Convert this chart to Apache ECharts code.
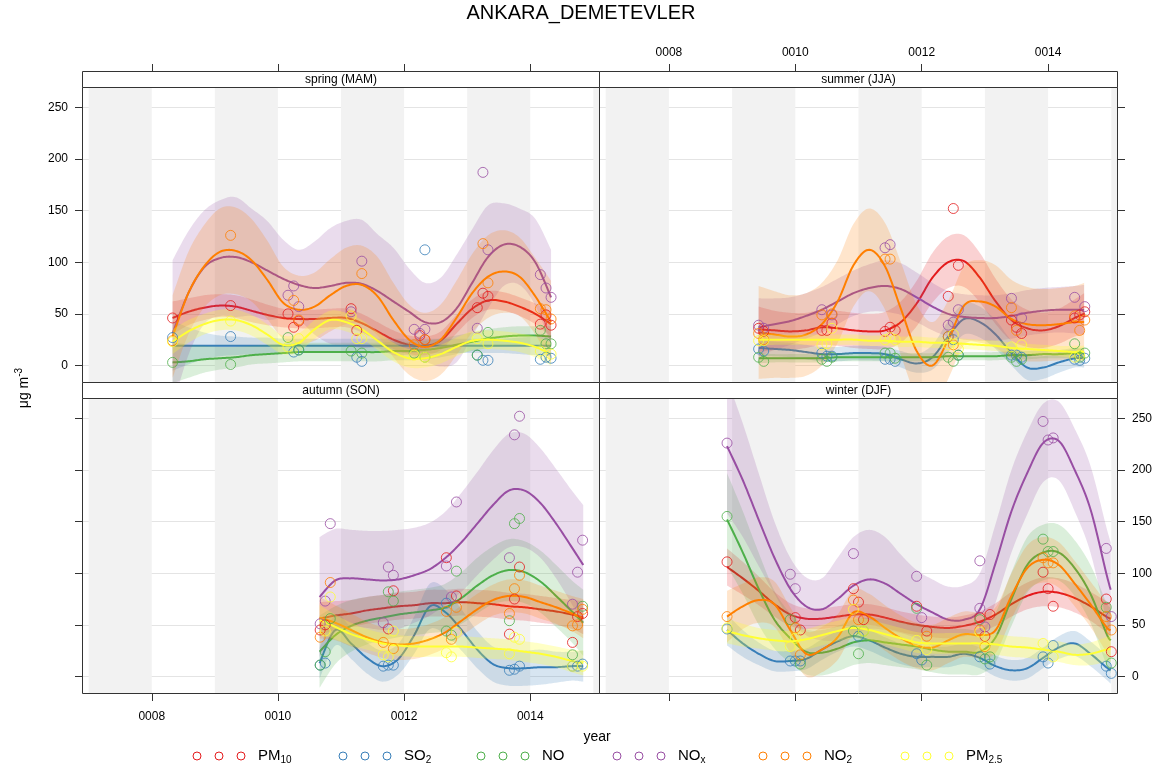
<!DOCTYPE html>
<html><head><meta charset="utf-8">
<script src="https://cdn.jsdelivr.net/npm/echarts@6/dist/echarts.min.js"></script>
<style>html,body{margin:0;padding:0;background:#fff}#c{width:1162px;height:771px}</style>
</head><body><div id="c"></div>
<script>
// ---------- labels & ticks ----------
const chartTitle = 'ANKARA_DEMETEVLER';
const seasonNames = ['spring (MAM)', 'summer (JJA)', 'autumn (SON)', 'winter (DJF)'];
const pollutants = ['PM10', 'SO2', 'NO', 'NOx', 'NO2', 'PM2.5'];
const legendMain = ['PM', 'SO', 'NO', 'NO', 'NO', 'PM'];
const legendSub = ['10', '2', '', 'x', '2', '2.5'];
const colors = ['#E41A1C', '#377EB8', '#4DAF4A', '#984EA3', '#FF7F00', '#FFFF33'];
const xTickYears = [2008, 2010, 2012, 2014];
const xTickLabels = ['0008', '0010', '0012', '0014'];
const yTicks = [0, 50, 100, 150, 200, 250];
const shadeYears = [2007, 2009, 2011, 2013, 2015];

// ---------- spring ----------
const springX = [2008.33,2008.58,2008.83,2009.08,2009.33,2009.58,2009.83,2010.08,2010.33,2010.58,2010.83,2011.08,2011.33,2011.58,2011.83,2012.08,2012.33,2012.58,2012.83,2013.08,2013.33,2013.58,2013.83,2014.08,2014.33];
const springPM10Fit = [46,52,56,58,57,53,49,46,45,45,46,46,41,33,25,20,19,24,40,55,63,62,57,50,40];
const springPM10Ci  = [16,13,12,11,11,11,10,9,9,9,9,9,9,9,9,9,9,9,9,9,9,9,9,10,12];
const springSO2Fit  = [19,19,19,19,19,19,19,19,19,19,19,19,19,19,19,19,19,19,19,19,19,19,19,19,19];
const springSO2Ci   = [24,18,13,10,9,8,8,7,7,7,7,7,7,7,7,7,7,7,7,7,7,7,8,9,10];
const springNOFit   = [3,4,6,7,8,10,11,12,13,13,13,13,13,13,14,14,15,17,20,23,26,28,29,29,28];
const springNOCi    = [20,16,13,11,10,9,9,9,9,9,9,9,9,9,9,9,9,9,9,9,9,9,9,9,10];
const springNOxFit  = [31,70,95,104,105,100,92,84,78,75,77,80,79,72,62,52,42,42,55,80,105,117,115,100,66];
const springNOxCi   = [71,60,55,56,58,52,48,38,34,45,56,60,62,55,52,42,38,43,52,52,50,40,37,42,46];
const springNO2Fit  = [28,70,96,110,111,102,83,61,54,57,68,77,78,67,44,25,18,25,46,70,86,91,86,67,42];
const springNO2Ci   = [40,40,40,42,42,40,38,35,33,33,35,37,38,38,36,34,33,34,36,38,40,40,38,37,40];
const springPM25Fit = [23,33,40,44,44,39,30,20,22,35,44,42,35,24,13,7,7,11,18,24,25,24,22,18,11];
const springPM25Ci  = [12,11,10,10,10,10,10,9,9,9,9,9,9,9,9,9,9,9,9,9,9,9,9,10,11];
const springPM10Pts = [[2008.33,46],[2009.25,58],[2010.16,50],[2010.25,37],[2010.33,43],[2011.16,55],[2011.25,34],[2012.25,29],[2012.33,25],[2013.16,56],[2013.25,70],[2013.33,67],[2014.16,40],[2014.25,49],[2014.33,39]];
const springSO2Pts  = [[2008.33,27],[2009.25,28],[2010.25,13],[2010.33,15],[2011.25,8],[2011.33,4],[2012.33,112],[2013.16,10],[2013.25,5],[2013.33,5],[2014.16,6],[2014.25,8],[2014.33,7]];
const springNOPts   = [[2008.33,3],[2009.25,1],[2010.16,27],[2010.33,15],[2011.16,14],[2011.33,12],[2012.16,12],[2012.33,8],[2013.16,10],[2013.33,32],[2014.16,34],[2014.25,21],[2014.33,21]];
const springNOxPts  = [[2010.16,68],[2010.25,77],[2010.33,57],[2011.16,52],[2011.33,101],[2012.16,35],[2012.25,31],[2012.33,35],[2013.16,36],[2013.25,187],[2013.33,112],[2014.16,88],[2014.25,75],[2014.33,66]];
const springNO2Pts  = [[2008.33,24],[2009.25,126],[2010.25,63],[2010.33,44],[2011.33,89],[2012.16,20],[2012.33,25],[2013.25,118],[2013.33,80],[2014.16,55],[2014.25,54],[2014.33,45]];
const springPM25Pts = [[2008.33,23],[2009.25,43],[2010.16,18],[2010.33,26],[2011.16,48],[2011.25,26],[2011.33,26],[2012.16,10],[2012.33,8],[2013.16,26],[2013.33,21],[2014.16,14],[2014.33,11]];

// ---------- summer ----------
const summerX = [2009.42,2009.67,2009.92,2010.17,2010.42,2010.67,2010.92,2011.17,2011.42,2011.67,2011.92,2012.17,2012.42,2012.67,2012.92,2013.17,2013.42,2013.67,2013.92,2014.17,2014.42,2014.57];
const summerPM10Fit = [35,34,33,34,37,36,34,33,34,42,60,85,100,101,85,62,44,36,34,38,46,50];
const summerPM10Ci  = [22,19,18,17,17,17,17,17,18,20,22,24,25,25,24,22,20,18,17,17,18,20];
const summerSO2Fit  = [17,16,15,13,11,11,12,12,11,6,2,8,28,45,42,30,12,-2,-2,3,7,7];
const summerSO2Ci   = [8,7,7,7,7,7,7,7,7,8,9,12,15,15,15,14,12,12,11,10,9,9];
const summerNOFit   = [7,7,7,7,7,8,8,8,8,8,8,8,9,9,9,9,10,10,11,11,12,12];
const summerNOCi    = [5,4,4,4,4,4,4,4,4,4,4,4,4,4,4,4,4,4,4,4,5,5];
const summerNOxFit  = [37,40,43,48,54,62,70,75,77,74,66,57,50,47,46,46,48,51,53,54,54,54];
const summerNOxCi   = [28,25,23,22,22,22,22,23,25,25,24,23,22,22,22,22,22,22,22,22,23,24];
const summerNO2Fit  = [32,30,28,30,40,62,97,112,96,55,14,0,25,58,62,57,45,40,39,40,42,42];
const summerNO2Ci   = [45,42,40,40,40,40,40,40,42,45,45,42,38,38,40,40,38,36,35,35,35,38];
const summerPM25Fit = [25,25,25,25,25,25,25,24,24,23,23,22,22,21,20,19,17,16,15,14,13,13];
const summerPM25Ci  = [6,5,5,5,5,5,5,5,5,5,5,5,5,5,5,5,5,5,5,5,6,6];
const summerPM10Pts = [[2009.42,36],[2009.5,33],[2010.42,34],[2010.5,34],[2010.58,41],[2011.42,33],[2011.5,37],[2011.58,34],[2012.42,67],[2012.5,152],[2012.58,97],[2013.42,44],[2013.5,37],[2013.58,31],[2014.42,46],[2014.5,49],[2014.58,52]];
const summerSO2Pts  = [[2009.42,16],[2009.5,14],[2010.42,12],[2010.5,9],[2010.58,9],[2011.42,6],[2011.5,6],[2011.58,4],[2012.42,28],[2012.5,25],[2012.58,10],[2013.42,10],[2013.5,10],[2013.58,8],[2014.42,6],[2014.5,5],[2014.58,7]];
const summerNOPts   = [[2009.42,8],[2009.5,4],[2010.42,6],[2010.5,4],[2010.58,8],[2011.42,12],[2011.5,12],[2011.58,7],[2012.42,8],[2012.5,4],[2012.58,10],[2013.42,8],[2013.5,4],[2013.58,6],[2014.42,21],[2014.5,8],[2014.58,12]];
const summerNOxPts  = [[2009.42,39],[2009.5,36],[2010.42,54],[2010.58,49],[2011.42,114],[2011.5,117],[2012.42,39],[2012.5,42],[2012.58,54],[2013.42,65],[2013.58,46],[2014.42,66],[2014.58,57]];
const summerNO2Pts  = [[2009.42,31],[2009.5,25],[2010.42,49],[2010.58,50],[2011.42,103],[2011.5,103],[2012.42,28],[2012.5,20],[2013.42,56],[2013.5,34],[2014.42,48],[2014.5,34],[2014.58,44]];
const summerPM25Pts = [[2009.42,24],[2009.5,24],[2010.42,20],[2010.5,21],[2010.58,36],[2011.42,25],[2011.5,27],[2011.58,25],[2012.42,20],[2012.5,30],[2012.58,16],[2013.42,18],[2013.58,20],[2014.42,8],[2014.5,10]];

// ---------- autumn ----------
const autumnX = [2010.66,2010.91,2011.16,2011.41,2011.66,2011.91,2012.16,2012.41,2012.66,2012.91,2013.16,2013.41,2013.66,2013.91,2014.16,2014.41,2014.66,2014.84];
const autumnPM10Fit = [56,59,61,64,66,68,69,71,71,72,71,70,68,67,65,63,60,57];
const autumnPM10Ci  = [16,14,13,13,13,13,13,13,13,13,13,13,13,13,13,13,14,16];
const autumnSO2Fit  = [13,45,32,18,10,17,40,68,62,45,26,12,8,8,9,9,10,10];
const autumnSO2Ci   = [15,15,15,15,15,15,18,22,22,20,18,17,17,17,17,15,14,15];
const autumnNOFit   = [24,40,49,54,57,60,62,64,67,76,88,98,103,101,92,78,63,52];
const autumnNOCi    = [35,28,25,23,22,22,22,22,23,25,27,28,30,30,30,30,30,32];
const autumnNOxFit  = [77,93,95,94,93,94,98,104,115,130,148,166,180,180,168,148,125,108];
const autumnNOxCi   = [58,50,47,47,48,48,46,45,45,48,50,53,55,55,53,53,55,58];
const autumnNO2Fit  = [57,52,45,38,33,31,32,36,43,54,65,74,78,77,72,67,61,56];
const autumnNO2Ci   = [20,17,16,15,15,15,15,15,15,15,15,15,16,16,16,16,17,19];
const autumnPM25Fit = [55,48,41,36,32,30,29,29,29,29,28,27,26,24,22,19,15,13];
const autumnPM25Ci  = [14,12,11,10,10,10,10,10,10,10,10,10,10,10,10,10,11,12];
const autumnPM10Pts = [[2010.67,45],[2010.75,50],[2011.75,46],[2011.83,83],[2012.67,115],[2012.83,78],[2013.67,41],[2013.75,75],[2013.83,106],[2014.67,33],[2014.75,58],[2014.83,61]];
const autumnSO2Pts  = [[2010.67,11],[2010.75,13],[2011.67,10],[2011.75,11],[2011.83,11],[2012.67,71],[2013.67,6],[2013.75,7],[2013.83,10],[2014.67,10],[2014.75,10],[2014.83,12]];
const autumnNOPts   = [[2010.67,11],[2010.75,24],[2010.83,56],[2011.75,82],[2011.83,73],[2012.67,44],[2012.75,40],[2012.83,102],[2013.67,54],[2013.75,148],[2013.83,153],[2014.67,21],[2014.83,68]];
const autumnNOxPts  = [[2010.67,51],[2010.75,73],[2010.83,148],[2011.67,52],[2011.75,106],[2011.83,98],[2012.67,107],[2012.75,77],[2012.83,169],[2013.67,115],[2013.75,234],[2013.83,252],[2014.67,70],[2014.75,101],[2014.83,132]];
const autumnNO2Pts  = [[2010.67,38],[2010.83,91],[2011.67,33],[2011.83,27],[2012.67,63],[2012.75,36],[2012.83,67],[2013.67,61],[2013.75,85],[2013.83,98],[2014.67,49],[2014.75,50],[2014.83,65]];
const autumnPM25Pts = [[2010.75,44],[2010.83,77],[2011.67,21],[2011.75,19],[2011.83,44],[2012.67,23],[2012.75,19],[2012.83,43],[2013.67,22],[2013.75,38],[2013.83,36],[2014.67,10],[2014.83,10]];

// ---------- winter ----------
const winterX = [2008.92,2009.17,2009.42,2009.67,2009.92,2010.17,2010.42,2010.67,2010.92,2011.17,2011.42,2011.67,2011.92,2012.17,2012.42,2012.67,2012.92,2013.17,2013.42,2013.67,2013.92,2014.17,2014.42,2014.67,2014.92,2014.99];
const winterPM10Fit = [106,95,83,70,60,56,56,58,60,60,57,53,50,48,47,49,53,60,70,78,82,81,76,68,58,56];
const winterPM10Ci  = [18,16,14,12,11,10,10,10,10,10,10,10,10,10,10,10,10,11,12,13,14,14,14,14,15,16];
const winterSO2Fit  = [45,32,22,15,15,17,26,34,39,35,28,22,19,19,19,22,18,10,6,8,18,28,32,22,9,6];
const winterSO2Ci   = [15,13,11,10,10,10,10,10,10,10,10,10,10,10,10,10,10,10,10,10,10,11,12,12,12,13];
const winterNOFit   = [152,120,85,55,37,24,23,27,33,35,33,31,29,26,24,24,24,38,75,108,120,120,105,80,42,35];
const winterNOCi    = [45,40,35,28,24,22,22,22,22,22,22,22,22,22,22,22,22,24,26,27,27,27,27,28,30,32];
const winterNOxFit  = [223,190,152,115,85,68,65,75,88,94,90,80,70,62,55,55,65,110,160,197,226,228,200,162,100,84];
const winterNOxCi   = [65,55,45,35,30,28,30,40,47,48,45,38,33,32,32,33,35,38,40,40,38,38,40,42,45,46];
const winterNO2Fit  = [58,68,74,70,45,22,26,38,62,58,47,37,30,28,35,41,40,45,78,105,113,108,90,70,48,45];
const winterNO2Ci   = [25,22,22,22,22,22,22,22,22,22,22,22,22,22,22,22,22,22,22,22,22,22,22,22,24,25];
const winterPM25Fit = [44,40,37,35,34,36,40,44,47,45,41,37,33,32,32,32,32,31,29,28,26,24,21,22,26,27];
const winterPM25Ci  = [12,11,10,10,10,10,10,10,10,10,10,10,10,10,10,10,10,10,10,10,10,10,10,11,12,13];
const winterPM10Pts = [[2008.92,111],[2010.0,57],[2010.08,45],[2010.92,85],[2011.0,72],[2011.08,55],[2011.92,68],[2012.08,44],[2012.92,57],[2013.0,39],[2013.08,60],[2013.92,101],[2014.0,85],[2014.08,68],[2014.92,75],[2015.0,24]];
const winterSO2Pts  = [[2008.92,46],[2009.92,15],[2010.0,15],[2010.08,15],[2011.0,39],[2011.92,22],[2012.0,16],[2012.92,19],[2013.08,12],[2013.92,19],[2014.0,13],[2014.08,30],[2014.92,10],[2015.0,3]];
const winterNOPts   = [[2008.92,155],[2009.92,55],[2010.08,12],[2010.92,44],[2011.0,22],[2011.08,44],[2011.92,66],[2012.08,11],[2012.92,55],[2013.0,17],[2013.08,19],[2013.92,133],[2014.0,121],[2014.08,121],[2014.92,67],[2015.0,13]];
const winterNOxPts  = [[2008.92,226],[2009.92,99],[2010.0,85],[2010.92,119],[2011.92,97],[2012.0,57],[2012.92,112],[2012.92,66],[2013.0,48],[2013.92,247],[2014.0,229],[2014.08,231],[2014.92,124],[2015.0,58]];
const winterNO2Pts  = [[2008.92,58],[2010.0,47],[2010.08,21],[2010.92,74],[2011.0,55],[2012.08,39],[2012.92,45],[2013.0,29],[2013.92,115],[2014.0,110],[2014.08,110],[2014.92,58],[2015.0,45]];
const winterPM25Pts = [[2008.92,47],[2009.92,29],[2010.0,37],[2010.92,65],[2011.08,44],[2011.92,35],[2012.08,26],[2012.92,43],[2013.0,30],[2013.92,32],[2014.08,19]];

// ---------- assembly ----------
const seasonData = [
  {x: springX, fit: [springPM10Fit, springSO2Fit, springNOFit, springNOxFit, springNO2Fit, springPM25Fit],
   ci: [springPM10Ci, springSO2Ci, springNOCi, springNOxCi, springNO2Ci, springPM25Ci],
   pts: [springPM10Pts, springSO2Pts, springNOPts, springNOxPts, springNO2Pts, springPM25Pts]},
  {x: summerX, fit: [summerPM10Fit, summerSO2Fit, summerNOFit, summerNOxFit, summerNO2Fit, summerPM25Fit],
   ci: [summerPM10Ci, summerSO2Ci, summerNOCi, summerNOxCi, summerNO2Ci, summerPM25Ci],
   pts: [summerPM10Pts, summerSO2Pts, summerNOPts, summerNOxPts, summerNO2Pts, summerPM25Pts]},
  {x: autumnX, fit: [autumnPM10Fit, autumnSO2Fit, autumnNOFit, autumnNOxFit, autumnNO2Fit, autumnPM25Fit],
   ci: [autumnPM10Ci, autumnSO2Ci, autumnNOCi, autumnNOxCi, autumnNO2Ci, autumnPM25Ci],
   pts: [autumnPM10Pts, autumnSO2Pts, autumnNOPts, autumnNOxPts, autumnNO2Pts, autumnPM25Pts]},
  {x: winterX, fit: [winterPM10Fit, winterSO2Fit, winterNOFit, winterNOxFit, winterNO2Fit, winterPM25Fit],
   ci: [winterPM10Ci, winterSO2Ci, winterNOCi, winterNOxCi, winterNO2Ci, winterPM25Ci],
   pts: [winterPM10Pts, winterSO2Pts, winterNOPts, winterNOxPts, winterNO2Pts, winterPM25Pts]}
];

const FONT = 'Liberation Sans, Arial, Helvetica, sans-serif';
const xMin = 2006.91, xMax = 2015.09;
const yMin = -16, yMax = 268.7;
const grids = [
  {left: 83, top: 88, width: 516, height: 294},
  {left: 600, top: 88, width: 517, height: 294},
  {left: 83, top: 399, width: 516, height: 294},
  {left: 600, top: 399, width: 517, height: 294}
];

function rgba(hex, a) {
  const n = parseInt(hex.slice(1), 16);
  return 'rgba(' + (n >> 16 & 255) + ',' + (n >> 8 & 255) + ',' + (n & 255) + ',' + a + ')';
}
// Catmull-Rom smoothing of already-projected pixel points (rendering only)
function spline(pts, seg) {
  const out = [], n = pts.length;
  if (n < 2) return pts.slice();
  for (let i = 0; i < n - 1; i++) {
    const p0 = pts[Math.max(i - 1, 0)], p1 = pts[i], p2 = pts[i + 1], p3 = pts[Math.min(i + 2, n - 1)];
    for (let s = 0; s < seg; s++) {
      const t = s / seg, t2 = t * t, t3 = t2 * t;
      out.push([0, 1].map(d => 0.5 * (2 * p1[d] + (-p0[d] + p2[d]) * t +
        (2 * p0[d] - 5 * p1[d] + 4 * p2[d] - p3[d]) * t2 + (-p0[d] + 3 * p1[d] - 3 * p2[d] + p3[d]) * t3)));
    }
  }
  out.push(pts[n - 1].slice());
  return out;
}
function clipRect(cs) { return {type: 'rect', shape: {x: cs.x, y: cs.y, width: cs.width, height: cs.height}}; }

const showXLabel = [false, true, true, false];
const showYLabel = [true, false, false, true];
const xAxes = grids.map((g, i) => ({
  gridIndex: i, type: 'value', min: xMin, max: xMax,
  position: i < 2 ? 'top' : 'bottom', offset: i < 2 ? 16 : 0,
  axisLine: {show: false, onZero: false}, splitLine: {show: false},
  axisTick: {show: true, length: 8, inside: false, customValues: xTickYears, lineStyle: {color: '#333', width: 1}},
  axisLabel: {show: true, customValues: xTickYears, margin: i < 2 ? 13 : 18,
    fontSize: 12, color: showXLabel[i] ? '#000' : 'rgba(0,0,0,0)', fontFamily: FONT,
    formatter: v => xTickLabels[xTickYears.indexOf(Math.round(v))]}
}));
const yAxes = grids.map((g, i) => ({
  gridIndex: i, type: 'value', min: yMin, max: yMax, z: 1,
  position: i % 2 === 0 ? 'left' : 'right',
  axisLine: {show: false, onZero: false},
  axisTick: {show: true, length: 8, customValues: yTicks, lineStyle: {color: '#333', width: 1}},
  axisLabel: {show: true, customValues: yTicks, margin: 15, fontSize: 12,
    color: showYLabel[i] ? '#000' : 'rgba(0,0,0,0)', fontFamily: FONT},
  splitLine: {show: true, lineStyle: {color: '#e4e4e4', width: 1}}
}));

const series = [];
grids.forEach((g, gi) => {
  series.push({
    type: 'line', xAxisIndex: gi, yAxisIndex: gi, data: [], z: 0, silent: true,
    markArea: {silent: true, itemStyle: {color: '#f2f2f2'},
      data: shadeYears.map(y => [{xAxis: y}, {xAxis: Math.min(y + 1, xMax)}])}
  });
  const sd = seasonData[gi];
  pollutants.forEach((p, pi) => {
    const c = colors[pi];
    const xs = sd.x, fit = sd.fit[pi], ci = sd.ci[pi];
    // confidence band
    series.push({
      type: 'custom', xAxisIndex: gi, yAxisIndex: gi, z: 2, silent: true,
      encode: {x: 0, y: 1},
      data: xs.map((x, k) => [x, fit[k]]),
      renderItem: (params, api) => {
        if (params.dataIndex !== 0) return null;
        const up = xs.map((x, k) => api.coord([x, fit[k] + ci[k]]));
        const lo = xs.map((x, k) => api.coord([x, fit[k] - ci[k]]));
        const poly = spline(up, 12).concat(spline(lo, 12).reverse());
        return {type: 'group', clipPath: clipRect(params.coordSys), children: [
          {type: 'polygon', shape: {points: poly}, style: {fill: rgba(c, pi === 5 ? 0.28 : 0.2), stroke: null}}]};
      }
    });
    // smooth trend line
    series.push({
      type: 'custom', xAxisIndex: gi, yAxisIndex: gi, z: 2, silent: true,
      encode: {x: 0, y: 1},
      data: xs.map((x, k) => [x, fit[k]]),
      renderItem: (params, api) => {
        if (params.dataIndex !== 0) return null;
        const pts = xs.map((x, k) => api.coord([x, fit[k]]));
        return {type: 'group', clipPath: clipRect(params.coordSys), children: [
          {type: 'polyline', shape: {points: spline(pts, 12)}, style: {fill: null, stroke: c, lineWidth: 2}}]};
      }
    });
    // monthly points
    series.push({
      type: 'scatter', xAxisIndex: gi, yAxisIndex: gi, symbol: 'circle', symbolSize: 10, z: 2,
      itemStyle: {color: 'rgba(0,0,0,0)', borderColor: c, borderWidth: 1},
      data: sd.pts[pi]
    });
  });
});

// frames, strips, labels, legend
const graphics = [];
const frames = [
  [82.5, 87.5, 517, 295], [599.5, 87.5, 518, 295],
  [82.5, 398.5, 517, 295], [599.5, 398.5, 518, 295]
];
const strips = [
  [82.5, 71.5, 517, 16], [599.5, 71.5, 518, 16],
  [82.5, 382.5, 517, 16], [599.5, 382.5, 518, 16]
];
frames.forEach(f => graphics.push({type: 'rect', z: 100, silent: true,
  shape: {x: f[0], y: f[1], width: f[2], height: f[3]},
  style: {fill: 'none', stroke: '#333', lineWidth: 1}}));
strips.forEach((s, i) => {
  graphics.push({type: 'rect', z: 100, silent: true,
    shape: {x: s[0], y: s[1], width: s[2], height: s[3]},
    style: {fill: '#fff', stroke: '#333', lineWidth: 1}});
  graphics.push({type: 'text', z: 101, silent: true, x: s[0] + s[2] / 2, y: s[1] + s[3] / 2 + 0.5,
    style: {text: seasonNames[i], fill: '#000', font: '12px ' + FONT, align: 'center', verticalAlign: 'middle'}});
});
graphics.push({type: 'text', z: 101, x: 597, y: 737, silent: true,
  style: {text: 'year', fill: '#000', font: '14px ' + FONT, align: 'center', verticalAlign: 'middle'}});
graphics.push({type: 'text', z: 101, x: 24, y: 388, rotation: Math.PI / 2, silent: true,
  style: {text: '{m|μg m}{p|-3}', align: 'center', verticalAlign: 'middle',
    rich: {m: {fontSize: 14, fontFamily: FONT, fill: '#000', color: '#000'},
           p: {fontSize: 10, fontFamily: FONT, fill: '#000', color: '#000', padding: [0, 0, 9, 0]}}}});
const legendX = [197, 343, 481, 617, 763, 905];
pollutants.forEach((p, i) => {
  [0, 22, 44].forEach(dx => graphics.push({type: 'circle', z: 101, silent: true,
    shape: {cx: legendX[i] + dx, cy: 756, r: 4},
    style: {fill: 'none', stroke: colors[i], lineWidth: 1}}));
  const txt = legendSub[i] ? '{m|' + legendMain[i] + '}{s|' + legendSub[i] + '}' : '{m|' + legendMain[i] + '}';
  graphics.push({type: 'text', z: 101, silent: true, x: legendX[i] + 61, y: 756,
    style: {text: txt, align: 'left', verticalAlign: 'middle',
      rich: {m: {fontSize: 15, fontFamily: FONT, fill: '#000', color: '#000'},
             s: {fontSize: 10, fontFamily: FONT, fill: '#000', color: '#000', padding: [9, 0, 0, 0]}}}});
});

const chart = echarts.init(document.getElementById('c'), null, {renderer: 'canvas'});
chart.setOption({
  animation: false,
  backgroundColor: '#fff',
  title: {text: chartTitle, left: 'center', top: -2,
    textStyle: {fontSize: 20, fontWeight: 'normal', color: '#000', fontFamily: FONT}},
  grid: grids.map(g => Object.assign({containLabel: false, show: false}, g)),
  xAxis: xAxes,
  yAxis: yAxes,
  series: series,
  graphic: {elements: graphics}
});
</script>
</body></html>
